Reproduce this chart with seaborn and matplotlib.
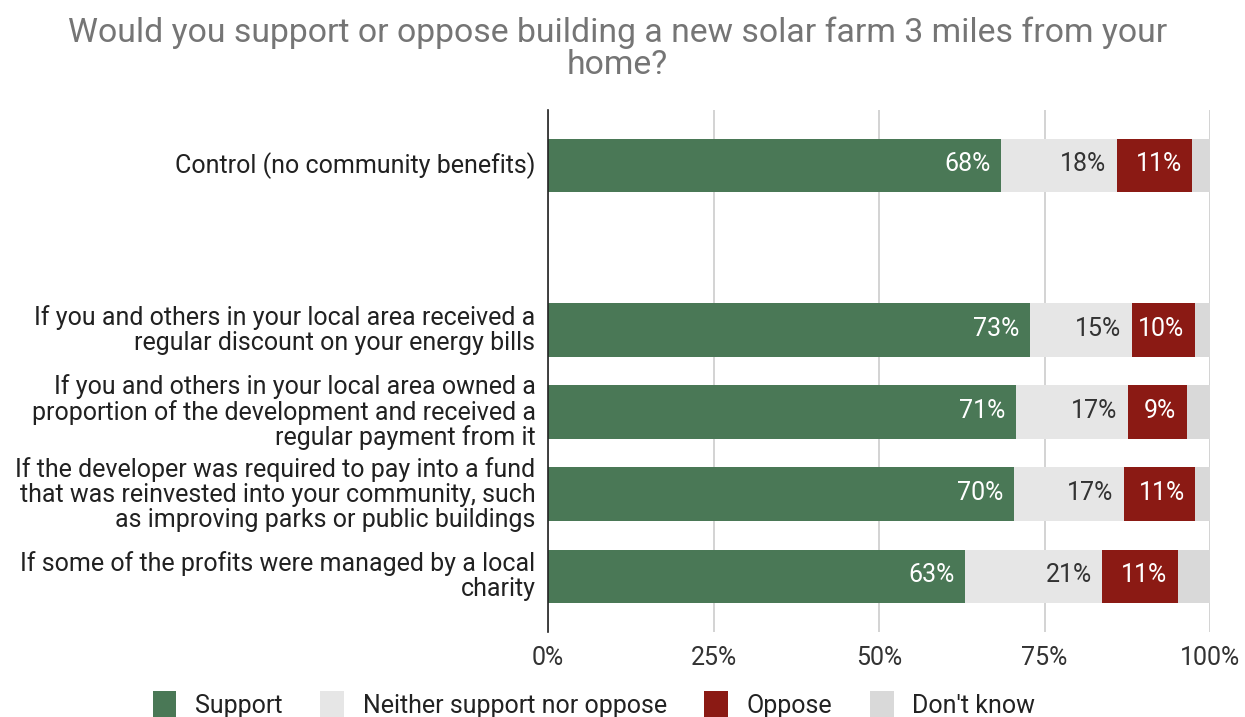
import matplotlib
matplotlib.use("Agg")
import matplotlib.pyplot as plt
import matplotlib.transforms as mtransforms
import seaborn as sns
import pandas as pd
import numpy as np
from matplotlib.patches import Patch

categories = [
    "Control (no community benefits)",
    "If you and others in your local area received a\nregular discount on your energy bills",
    "If you and others in your local area owned a\nproportion of the development and received a\nregular payment from it",
    "If the developer was required to pay into a fund\nthat was reinvested into your community, such\nas improving parks or public buildings",
    "If some of the profits were managed by a local\ncharity",
]
row_pos = [0, 2, 3, 4, 5]
support = [68.4, 72.8, 70.7, 70.4, 63.0]
neither = [17.5, 15.4, 16.9, 16.6, 20.7]
oppose = [11.4, 9.5, 8.9, 10.8, 11.4]
dont_know = [2.7, 2.3, 3.5, 2.2, 4.9]
series_names = ["Support", "Neither support nor oppose", "Oppose", "Don't know"]
colors = ["#4a7856", "#e6e6e6", "#8b1a14", "#d9d9d9"]
label_colors = ["white", "#333333", "white", None]
tick_vals = [0, 25, 50, 75, 100]
tick_labels = ["0%", "25%", "50%", "75%", "100%"]

sns.set_theme(style="white")
plt.rcParams['font.family'] = ['Roboto', 'DejaVu Sans']

df = pd.DataFrame({"pos": row_pos, "Support": support, "Neither": neither,
                   "Oppose": oppose, "DK": dont_know})
cols = ["Support", "Neither", "Oppose", "DK"]
cum = df[cols].cumsum(axis=1)

fig = plt.figure(figsize=(12.45, 7.17), dpi=100)
ax = fig.add_axes([548/1245, 1 - 632/717, 662/1245, 522/717])

# draw cumulative bars from largest to smallest so they overlay as stacks
for i in range(len(cols) - 1, -1, -1):
    d = pd.DataFrame({"pos": df["pos"], "val": cum[cols[i]]})
    sns.barplot(data=d, x="val", y="pos", orient="h", native_scale=True,
                color=colors[i], saturation=1, width=0.65, ax=ax,
                edgecolor="none", linewidth=0, zorder=3)

# labels
for r in range(len(row_pos)):
    for i in range(3):
        end = cum[cols[i]].iloc[r]
        val = df[cols[i]].iloc[r]
        ax.annotate(f"{round(val):.0f}%", xy=(end, row_pos[r]), xytext=(-7.5, 1),
                    textcoords="offset points", ha="right", va="center",
                    color=label_colors[i], fontsize=18, zorder=5)

ax.set_xlim(0, 100)
ax.set_ylim(5.68, -0.68)
ax.set_xticks(tick_vals)
ax.set_xticklabels(tick_labels, fontsize=18, color="#333333")
ax.set_yticks(row_pos)
ax.set_yticklabels(categories, fontsize=18, color="#212121", linespacing=1.05)
ax.tick_params(axis="x", length=0, pad=10)
ax.tick_params(axis="y", length=0, pad=9)
offset = mtransforms.ScaledTranslation(0, 3/100, fig.dpi_scale_trans)
for lbl in ax.get_yticklabels():
    lbl.set_transform(lbl.get_transform() + offset)
ax.set_xlabel("")
ax.set_ylabel("")
ax.grid(axis="x", color="#cccccc", linewidth=1.2, zorder=0)
ax.set_axisbelow(True)
for s in ["top", "right", "bottom"]:
    ax.spines[s].set_visible(False)
ax.spines["left"].set_color("#222222")
ax.spines["left"].set_linewidth(1.2)
ax.spines["left"].set_zorder(6)

fig.text(0.496, 1 - 49/717, "Would you support or oppose building a new solar farm 3 miles from your\nhome?",
         ha="center", va="center", fontsize=24.3, color="#757575", linespacing=1.02)

handles = [Patch(facecolor=c, edgecolor="none") for c in colors]
fig.legend(handles, series_names, loc="center", bbox_to_anchor=(0.477, 1 - 705/717),
           ncol=4, frameon=False, fontsize=18, handlelength=0.95, handleheight=1.35,
           columnspacing=1.5, handletextpad=0.75, labelcolor="#222222")

fig.savefig("out.png", dpi=100)
